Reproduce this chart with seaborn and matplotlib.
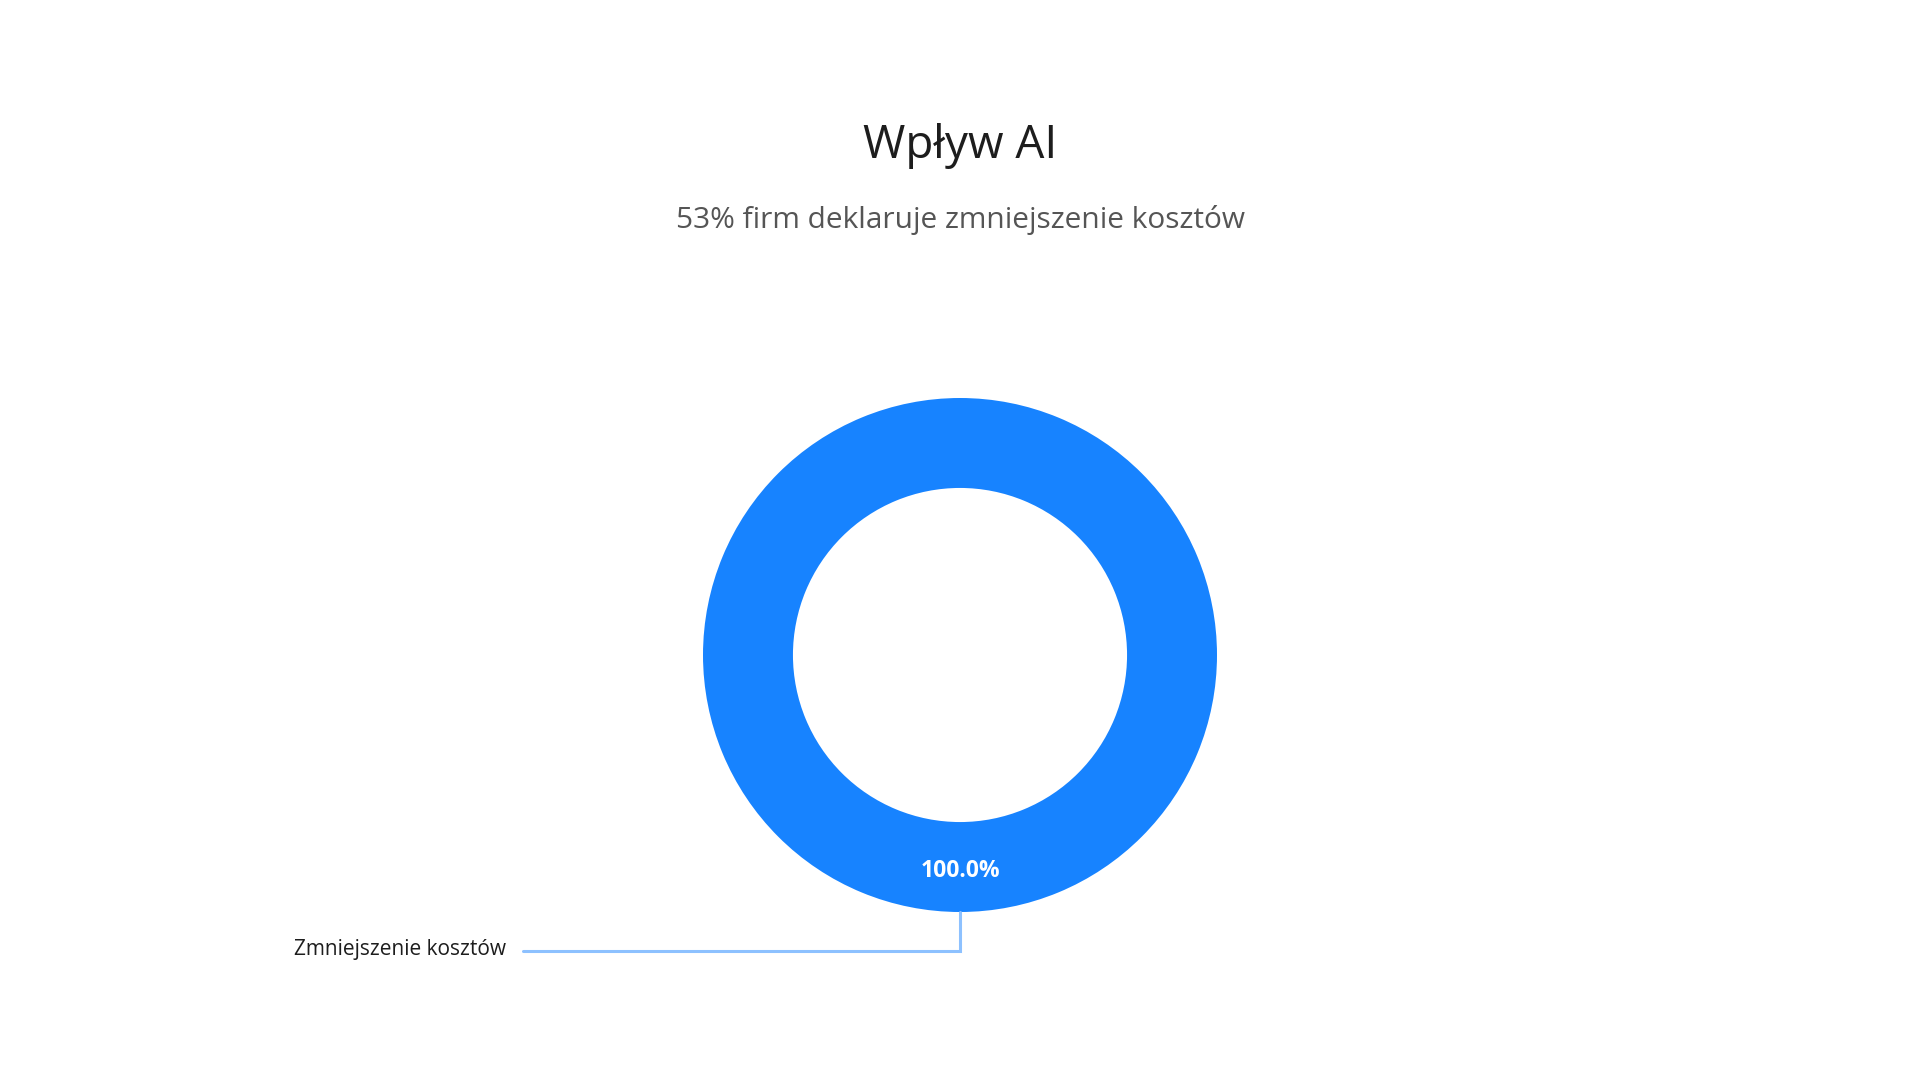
import numpy as np
import matplotlib
matplotlib.use("Agg")
import matplotlib.pyplot as plt
import seaborn as sns

# dane
kategorie = ["Zmniejszenie kosztów"]
wartosci = [53]
tytul = "Wpływ AI"
podtytul = "53% firm deklaruje zmniejszenie kosztów"

sns.set_theme(style="white")
plt.rcParams['font.family'] = ['Open Sans', 'DejaVu Sans']

kolory = ["#1783FF"]

fig = plt.figure(figsize=(19.2, 10.8), dpi=100)
fig.patch.set_facecolor("white")

# os kwadratowa, srodek pierscienia ok. (960, 655) px
R = 257
cx, cy = 960, 1080 - 655
ax = fig.add_axes([(cx - R) / 1920, (cy - R) / 1080, 2 * R / 1920, 2 * R / 1080])

wedges, teksty, procenty = ax.pie(
    wartosci, colors=kolory, startangle=90, counterclock=True,
    radius=1, autopct="%1.1f%%", pctdistance=0.84,
    wedgeprops=dict(width=0.35, edgecolor="white", linewidth=0),
    textprops=dict(color="white", fontsize=16.5, fontweight="bold"))
ax.set_xlim(-1, 1)
ax.set_ylim(-1, 1)
ax.set_aspect("equal")
ax.axis("off")

# linia prowadzaca i etykieta
for w, nazwa in zip(wedges, kategorie):
    kat = np.deg2rad((w.theta1 + w.theta2) / 2)
    x0, y0 = np.cos(kat), np.sin(kat)
    ax.plot([x0, x0, -1.70], [y0, -1.152, -1.152], color="#8DC1FF",
            lw=2.2, clip_on=False, solid_joinstyle="miter")
    ax.text(-1.765, -1.145, nazwa, ha="right", va="center",
            fontsize=15, color="#1d1d1d", clip_on=False)

fig.text(0.5, 0.854, tytul, ha="center", va="baseline",
         fontsize=33, color="#1d1d1d")
fig.text(0.5, 0.789, podtytul, ha="center", va="baseline",
         fontsize=21.5, color="#555555")

plt.savefig("out.png", dpi=100, facecolor="white")
